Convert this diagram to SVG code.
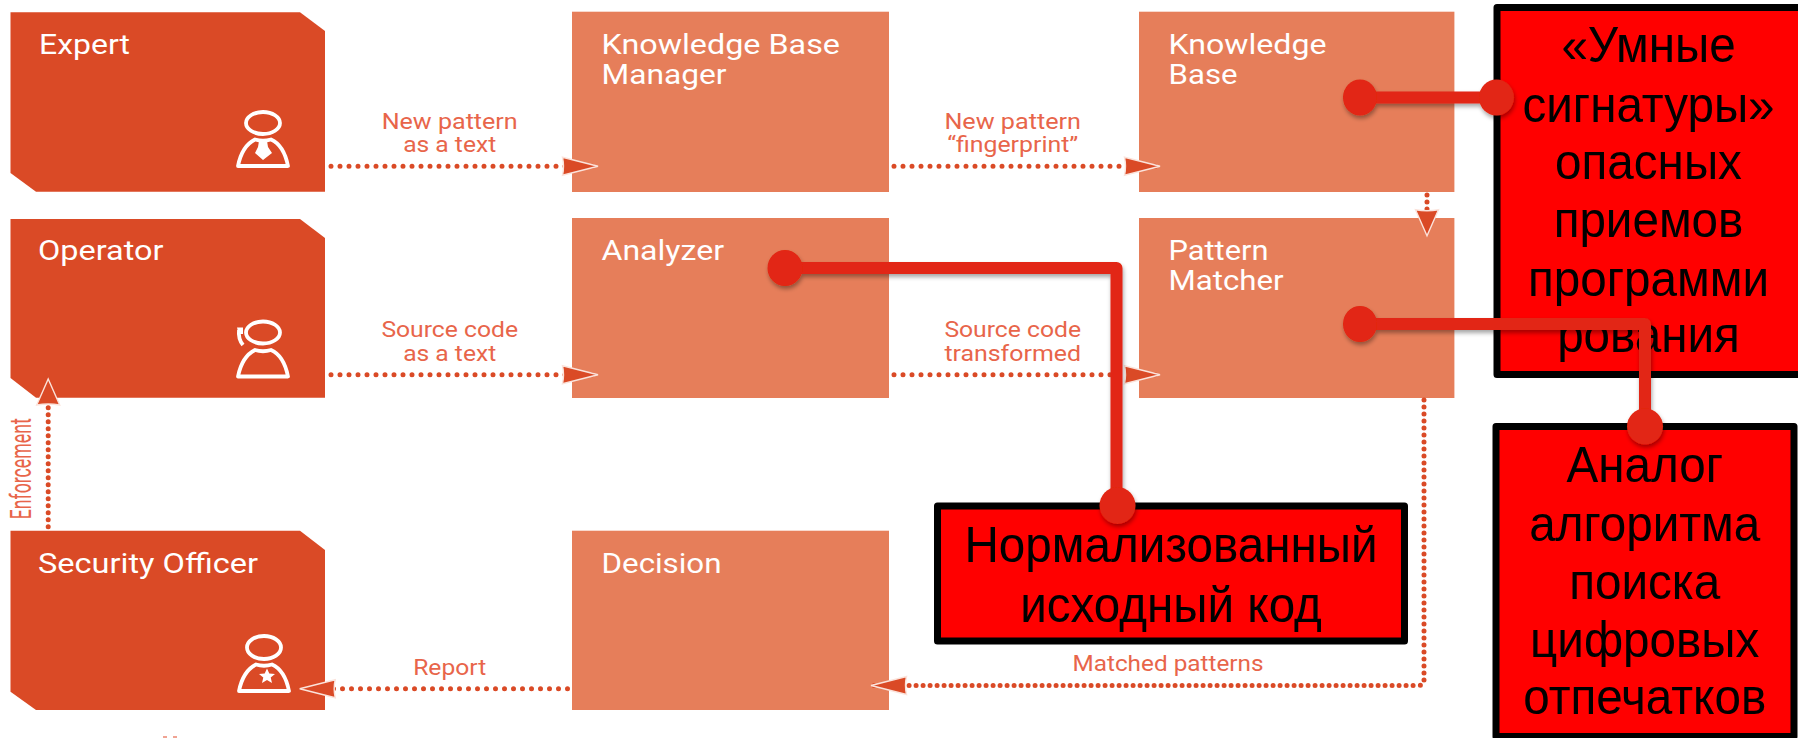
<svg xmlns="http://www.w3.org/2000/svg" width="1798" height="738" viewBox="0 0 1798 738">
<style>
text{font-family:Roboto,"Liberation Sans",sans-serif}
.actor{fill:#DA4A26}
.proc{fill:#E67E5A}
.title{fill:#fff;font-size:27px}
.label{fill:#E8654A;font-size:22px;text-anchor:middle}
.dot{fill:none;stroke:#DA4A26;stroke-width:5;stroke-linecap:round}
.h{stroke-dasharray:0 9}
.v{stroke-dasharray:0 7}
.ic{fill:none;stroke:#fff;stroke-width:3.8;stroke-linejoin:round}
.note{fill:#f00;stroke:#000;stroke-width:7;stroke-linejoin:round}
text.nt{font-family:"Liberation Sans",Arial,"Noto Sans",sans-serif;font-size:50px;fill:#000;text-anchor:middle}
.cl{fill:none;stroke:#E22612;stroke-width:12;stroke-linejoin:round}
.cd{fill:#E22612}
</style>
<defs>
<marker id="aH" markerUnits="userSpaceOnUse" markerWidth="40" markerHeight="22" refX="37" refY="11" orient="auto" overflow="visible"><path d="M1.5 2 L37 11 L1.5 20 Q3.500 11 1.500 2Z" fill="#DA4A26" stroke="#FBE3DB" stroke-width="1.400"/></marker>
<marker id="aV" markerUnits="userSpaceOnUse" markerWidth="30" markerHeight="28" refX="27" refY="14" orient="auto" overflow="visible"><path d="M1 2.500 L27 14 L1 25.500 Q3 14 1 2.500Z" fill="#DA4A26" stroke="#FBE3DB" stroke-width="1.400"/></marker>
<filter id="sh" x="-10%" y="-10%" width="120%" height="120%"><feDropShadow dx="1" dy="3" stdDeviation="2" flood-color="#000" flood-opacity=".35"/></filter>
<g id="body"><path class="ic" d="M238 166 C241 151 248 143 255 139.500 Q263 142 271 139.500 C279 143 285 151 288 166 Z"/></g>
</defs>
<g id="expert"><path class="actor" d="M10.500 12.300H300L325 31V191.700H36L10.500 173Z"/><text class="title" x="39" y="53.700" textLength="91" lengthAdjust="spacingAndGlyphs">Expert</text><ellipse class="ic" cx="263" cy="123" rx="17" ry="11"/><use href="#body"/><path d="M259 141H267L268 147L272 153L263 160L255 153L258 147Z" fill="#fff"/></g>
<g id="operator"><path class="actor" d="M10.500 219H300L325 238V397.700H36L10.500 378Z"/><text class="title" x="38" y="260.300" textLength="125.500" lengthAdjust="spacingAndGlyphs">Operator</text><ellipse class="ic" cx="263" cy="332.500" rx="17" ry="11"/><use href="#body" y="210.500"/><path class="ic" d="M243 345 Q238 339 239 330"/><path d="M237 327.500H243V334H239Z" fill="#fff"/></g>
<g id="officer"><path class="actor" d="M10.500 530.700H300L325 550V710H36L10.500 691.700Z"/><text class="title" x="38" y="573" textLength="220" lengthAdjust="spacingAndGlyphs">Security Officer</text><ellipse class="ic" cx="264" cy="647.500" rx="17" ry="11.500"/><use href="#body" x="1" y="525"/><path d="M267 668.500L269.300 673.500L275 674L270.700 677.500L272 683L267 680L262 683L263.300 677.500L259 674L264.700 673.500Z" fill="#fff"/></g>
<g id="kbm"><rect class="proc" x="572" y="11.700" width="317" height="180.300"/><text class="title" x="601.500" y="53.700" textLength="238.500" lengthAdjust="spacingAndGlyphs">Knowledge Base</text><text class="title" x="601.500" y="83.700" textLength="125" lengthAdjust="spacingAndGlyphs">Manager</text></g>
<g id="analyzer"><rect class="proc" x="572" y="218" width="317" height="180"/><text class="title" x="601.500" y="260.300" textLength="122.500" lengthAdjust="spacingAndGlyphs">Analyzer</text></g>
<g id="decision"><rect class="proc" x="572" y="530.700" width="317" height="179.300"/><text class="title" x="601.500" y="573" textLength="120" lengthAdjust="spacingAndGlyphs">Decision</text></g>
<g id="kb"><rect class="proc" x="1139" y="11.700" width="315.400" height="180.300"/><text class="title" x="1168.500" y="53.700" textLength="158" lengthAdjust="spacingAndGlyphs">Knowledge</text><text class="title" x="1168.500" y="83.700" textLength="69" lengthAdjust="spacingAndGlyphs">Base</text></g>
<g id="matcher"><rect class="proc" x="1139" y="218" width="315.400" height="180"/><text class="title" x="1168.500" y="260.300" textLength="100" lengthAdjust="spacingAndGlyphs">Pattern</text><text class="title" x="1168.500" y="290.300" textLength="115" lengthAdjust="spacingAndGlyphs">Matcher</text></g>
<g id="connectors">
<path class="dot h" d="M331 166.300H598" marker-end="url(#aH)"/>
<path class="dot h" d="M331 374.700H598" marker-end="url(#aH)"/>
<path class="dot h" d="M894 166.300H1160" marker-end="url(#aH)"/>
<path class="dot h" d="M894 374.700H1160" marker-end="url(#aH)"/>
<path class="dot v" d="M1427 195V235.700" marker-end="url(#aV)"/>
<path class="dot v" d="M48.200 526.700V379" marker-end="url(#aV)"/>
<path class="dot h" d="M567.500 688.700H299.700" marker-end="url(#aH)"/>
<path class="dot v" d="M1424 400V680Q1424 685.500 1418 685.500H871" marker-end="url(#aH)"/>
</g>
<g id="labels">
<text class="label" x="449.700" y="129" textLength="136" lengthAdjust="spacingAndGlyphs">New pattern</text>
<text class="label" x="449.700" y="152.300" textLength="93" lengthAdjust="spacingAndGlyphs">as a text</text>
<text class="label" x="449.700" y="337.300" textLength="136.600" lengthAdjust="spacingAndGlyphs">Source code</text>
<text class="label" x="449.700" y="360.700" textLength="93" lengthAdjust="spacingAndGlyphs">as a text</text>
<text class="label" x="1012.700" y="129" textLength="136.600" lengthAdjust="spacingAndGlyphs">New pattern</text>
<text class="label" x="1012.700" y="152.300" textLength="131" lengthAdjust="spacingAndGlyphs">“fingerprint”</text>
<text class="label" x="1012.700" y="337.300" textLength="136.600" lengthAdjust="spacingAndGlyphs">Source code</text>
<text class="label" x="1012.700" y="360.700" textLength="136.600" lengthAdjust="spacingAndGlyphs">transformed</text>
<text class="label" x="449.700" y="674.700" textLength="73" lengthAdjust="spacingAndGlyphs">Report</text>
<text class="label" x="1168" y="671" textLength="191" lengthAdjust="spacingAndGlyphs">Matched patterns</text>
<text class="label" transform="translate(31 468.800) rotate(-90)" style="font-size:30px" textLength="101" lengthAdjust="spacingAndGlyphs">Enforcement</text>
</g>
<g id="note-signatures"><rect class="note" x="1497" y="7.500" width="310" height="367"/><text class="nt" transform="translate(1648.500 62) scale(.952 1)">«Умные</text><text class="nt" transform="translate(1648.500 121.500) scale(.952 1)">сигнатуры»</text><text class="nt" transform="translate(1648.500 179) scale(.952 1)">опасных</text><text class="nt" transform="translate(1648.500 237) scale(.952 1)">приемов</text><text class="nt" transform="translate(1648.500 295.500) scale(.952 1)">программи</text><text class="nt" transform="translate(1648.500 352) scale(.952 1)">рования</text></g>
<g id="note-fingerprints"><rect class="note" x="1496" y="426.500" width="298" height="310"/><text class="nt" transform="translate(1644.700 481.700) scale(.952 1)">Аналог</text><text class="nt" transform="translate(1644.700 541) scale(.952 1)">алгоритма</text><text class="nt" transform="translate(1644.700 598.700) scale(.952 1)">поиска</text><text class="nt" transform="translate(1644.700 657) scale(.952 1)">цифровых</text><text class="nt" transform="translate(1644.700 713.700) scale(.952 1)">отпечатков</text></g>
<g id="note-normalized"><rect class="note" x="937.500" y="506" width="467" height="135"/><text class="nt" transform="translate(1171 561.700) scale(.952 1)">Нормализованный</text><text class="nt" transform="translate(1171 622) scale(.952 1)">исходный код</text></g>
<g id="callouts" filter="url(#sh)">
<path class="cl" d="M1360 97.500H1496.500"/><ellipse class="cd" cx="1360" cy="97.500" rx="17" ry="18"/><ellipse class="cd" cx="1496.500" cy="97.500" rx="17.500" ry="18"/>
<path class="cl" d="M785 268H1116.500V505"/><ellipse class="cd" cx="785" cy="268" rx="17.500" ry="18"/><ellipse class="cd" cx="1117.500" cy="505.500" rx="18" ry="18.500"/>
<path class="cl" d="M1360 324H1645V426"/><ellipse class="cd" cx="1360" cy="324" rx="17" ry="18"/><ellipse class="cd" cx="1645" cy="426.500" rx="18" ry="18"/>
</g>
<g id="fragment" fill="#F0A494"><rect x="163" y="736" width="4" height="2"/><rect x="173" y="736" width="4" height="2"/></g>
</svg>
